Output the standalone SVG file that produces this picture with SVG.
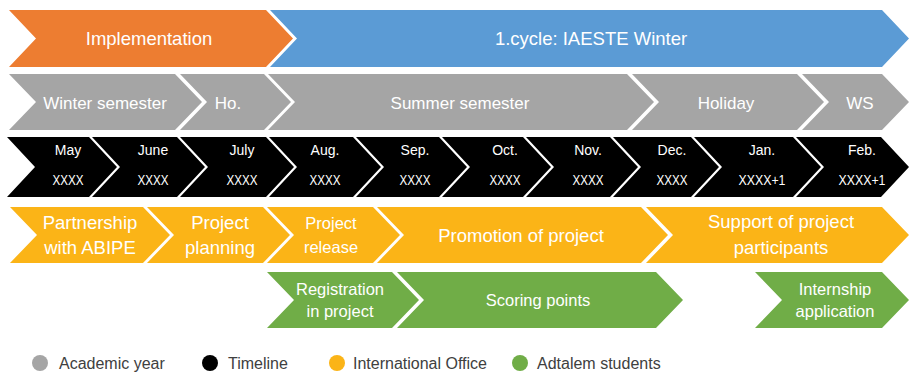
<svg xmlns="http://www.w3.org/2000/svg" width="909" height="374" viewBox="0 0 909 374">
  <style>
    text { font-family: "Liberation Sans", Arial, sans-serif; fill: #FFFFFF; text-anchor: middle; }
    .orange { fill: #ED7D31; }
    .blue { fill: #5B9BD5; }
    .gray { fill: #A5A5A5; }
    .black { fill: #000000; }
    .yellow { fill: #FBB417; }
    .green { fill: #70AD47; }
    .t1 { font-size: 18.5px; }
    .t2 { font-size: 17px; }
    .mon { font-size: 14px; }
    .yr { font-size: 14px; }
    .t4 { font-size: 18.5px; }
    .t5 { font-size: 16.5px; }
    .leg { font-size: 16px; fill: #404040; text-anchor: start; }
  </style>
  <rect width="909" height="374" fill="#FFFFFF"/>

  <!-- Row 1: project phases -->
  <g id="implementation">
    <polygon class="orange" points="9,10 266,10 293,38.5 266,67 9,67 36,38.5"/>
    <text class="t1" x="149" y="45">Implementation</text>
  </g>
  <g id="cycle-iaeste">
    <polygon class="blue" points="270,10 882,10 909,38.5 882,67 270,67 297,38.5"/>
    <text class="t1" x="591" y="45" font-size="16.8">1.cycle: IAESTE Winter</text>
  </g>

  <!-- Row 2: academic year -->
  <g id="winter-semester">
    <polygon class="gray" points="9,74 175,74 202,102 175,130 9,130 36,102"/>
    <text class="t2" x="105" y="109" font-size="16.5">Winter semester</text>
  </g>
  <g id="holiday-short">
    <polygon class="gray" points="180,74 264,74 291,102 264,130 180,130 207,102"/>
    <text class="t2" x="228" y="109">Ho.</text>
  </g>
  <g id="summer-semester">
    <polygon class="gray" points="268,74 627,74 654,102 627,130 268,130 295,102"/>
    <text class="t2" x="460" y="109" font-size="17.5">Summer semester</text>
  </g>
  <g id="holiday">
    <polygon class="gray" points="632,74 797,74 824,102 797,130 632,130 659,102"/>
    <text class="t2" x="726" y="109">Holiday</text>
  </g>
  <g id="ws">
    <polygon class="gray" points="802,74 882,74 909,102 882,130 802,130 829,102"/>
    <text class="t2" x="860" y="109">WS</text>
  </g>

  <!-- Row 3: timeline -->
  <g id="may">
    <polygon class="black" points="7,137 89,137 117,167 89,197 7,197 35,167"/>
    <text class="mon" x="68" y="155">May</text>
    <text class="yr" x="68" y="185" textLength="31" lengthAdjust="spacingAndGlyphs">XXXX</text>
  </g>
  <g id="june">
    <polygon class="black" points="92,137 177,137 205,167 177,197 92,197 120,167"/>
    <text class="mon" x="153" y="155">June</text>
    <text class="yr" x="153" y="185" textLength="31" lengthAdjust="spacingAndGlyphs">XXXX</text>
  </g>
  <g id="july">
    <polygon class="black" points="180,137 266,137 294,167 266,197 180,197 208,167"/>
    <text class="mon" x="242" y="155">July</text>
    <text class="yr" x="242" y="185" textLength="31" lengthAdjust="spacingAndGlyphs">XXXX</text>
  </g>
  <g id="august">
    <polygon class="black" points="269,137 353,137 381,167 353,197 269,197 297,167"/>
    <text class="mon" x="325" y="155">Aug.</text>
    <text class="yr" x="325" y="185" textLength="31" lengthAdjust="spacingAndGlyphs">XXXX</text>
  </g>
  <g id="september">
    <polygon class="black" points="356,137 439,137 467,167 439,197 356,197 384,167"/>
    <text class="mon" x="415" y="155">Sep.</text>
    <text class="yr" x="415" y="185" textLength="31" lengthAdjust="spacingAndGlyphs">XXXX</text>
  </g>
  <g id="october">
    <polygon class="black" points="442,137 523,137 551,167 523,197 442,197 470,167"/>
    <text class="mon" x="505" y="155">Oct.</text>
    <text class="yr" x="505" y="185" textLength="31" lengthAdjust="spacingAndGlyphs">XXXX</text>
  </g>
  <g id="november">
    <polygon class="black" points="526,137 610,137 638,167 610,197 526,197 554,167"/>
    <text class="mon" x="588" y="155">Nov.</text>
    <text class="yr" x="588" y="185" textLength="31" lengthAdjust="spacingAndGlyphs">XXXX</text>
  </g>
  <g id="december">
    <polygon class="black" points="613,137 691,137 719,167 691,197 613,197 641,167"/>
    <text class="mon" x="672" y="155">Dec.</text>
    <text class="yr" x="672" y="185" textLength="31" lengthAdjust="spacingAndGlyphs">XXXX</text>
  </g>
  <g id="january">
    <polygon class="black" points="694,137 793,137 821,167 793,197 694,197 722,167"/>
    <text class="mon" x="762" y="155">Jan.</text>
    <text class="yr" x="762" y="185" textLength="47" lengthAdjust="spacingAndGlyphs">XXXX+1</text>
  </g>
  <g id="february">
    <polygon class="black" points="796,137 881,137 909,167 881,197 796,197 824,167"/>
    <text class="mon" x="862" y="155">Feb.</text>
    <text class="yr" x="862" y="185" textLength="47" lengthAdjust="spacingAndGlyphs">XXXX+1</text>
  </g>

  <!-- Row 4: International Office -->
  <g id="partnership">
    <polygon class="yellow" points="10,207 143,207 170,235 143,263 10,263 37,235"/>
    <text class="t4" x="90" y="229">Partnership</text>
    <text class="t4" x="90" y="254">with ABIPE</text>
  </g>
  <g id="project-planning">
    <polygon class="yellow" points="147,207 263,207 290,235 263,263 147,263 174,235"/>
    <text class="t4" x="220" y="229">Project</text>
    <text class="t4" x="220" y="254">planning</text>
  </g>
  <g id="project-release">
    <polygon class="yellow" points="267,207 373,207 400,235 373,263 267,263 294,235"/>
    <text class="t5" x="331" y="229">Project</text>
    <text class="t5" x="331" y="253">release</text>
  </g>
  <g id="promotion">
    <polygon class="yellow" points="377,207 641,207 668,235 641,263 377,263 404,235"/>
    <text class="t4" x="521" y="242">Promotion of project</text>
  </g>
  <g id="support">
    <polygon class="yellow" points="646,207 882,207 909,235 882,263 646,263 673,235"/>
    <text class="t4" x="781" y="228">Support of project</text>
    <text class="t4" x="781" y="254">participants</text>
  </g>

  <!-- Row 5: Adtalem students -->
  <g id="registration">
    <polygon class="green" points="267,272 392,272 419,300 392,328 267,328 294,300"/>
    <text class="t5" x="340" y="295">Registration</text>
    <text class="t5" x="340" y="317">in project</text>
  </g>
  <g id="scoring">
    <polygon class="green" points="397,272 656,272 683,300 656,328 397,328 424,300"/>
    <text class="t5" x="538" y="306">Scoring points</text>
  </g>
  <g id="internship">
    <polygon class="green" points="755,272 882,272 909,300 882,328 755,328 782,300"/>
    <text class="t5" x="835" y="295">Internship</text>
    <text class="t5" x="835" y="317">application</text>
  </g>

  <!-- Legend -->
  <g id="legend">
    <circle class="gray" cx="40" cy="363" r="8"/>
    <text class="leg" x="59" y="369">Academic year</text>
    <circle class="black" cx="210" cy="363" r="8"/>
    <text class="leg" x="228" y="369">Timeline</text>
    <circle class="yellow" cx="337" cy="363" r="8"/>
    <text class="leg" x="353" y="369">International Office</text>
    <circle class="green" cx="520" cy="363" r="8"/>
    <text class="leg" x="537" y="369">Adtalem students</text>
  </g>
</svg>
